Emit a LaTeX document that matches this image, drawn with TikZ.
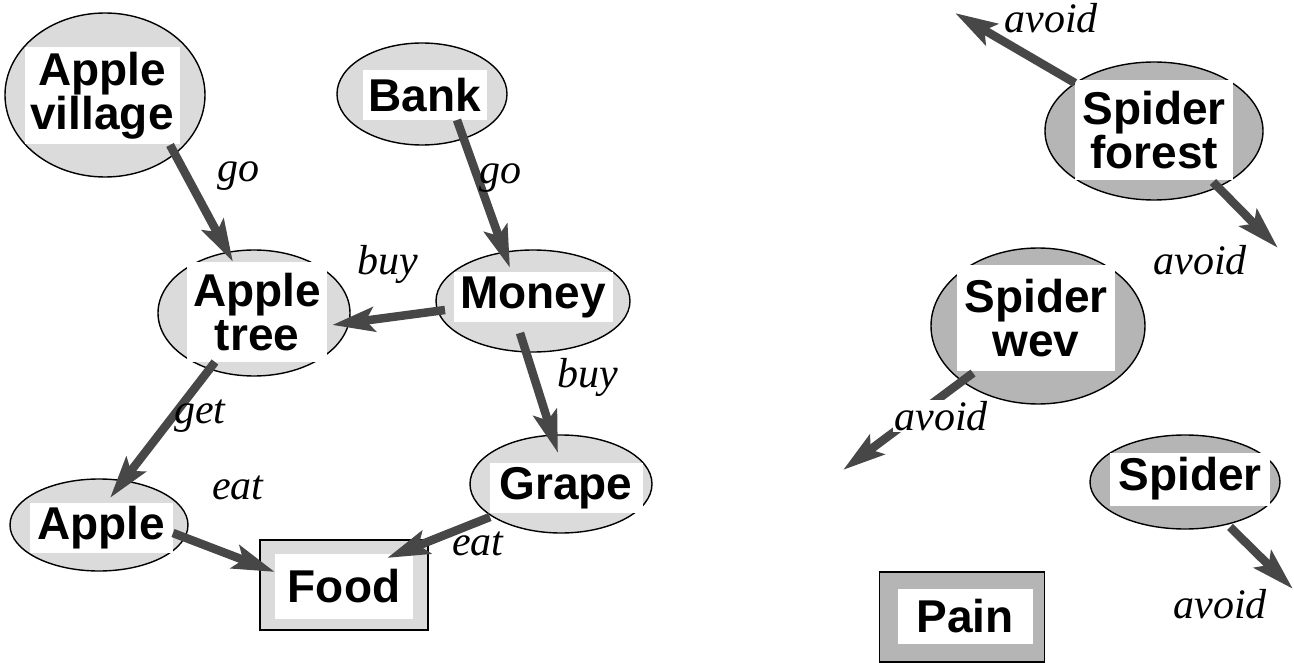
\documentclass[tikz,border=0pt]{standalone}
\usepackage{fontspec}
\setmainfont{Liberation Serif}
\newfontfamily\boxfont{Liberation Sans}
\usetikzlibrary{shapes.geometric,arrows.meta}
\begin{document}
\begin{tikzpicture}[x=1pt,y=-1pt,
  lightell/.style={ellipse,draw=black,line width=1.4pt,fill=gray!28,inner sep=0pt},
  darkell/.style={ellipse,draw=black,line width=1.4pt,fill=gray!58,inner sep=0pt},
  lightrect/.style={rectangle,draw=black,line width=1.2pt,fill=gray!28,inner sep=0pt},
  darkrect/.style={rectangle,draw=black,line width=1.2pt,fill=gray!58,inner sep=0pt},
  txtbox/.style={rectangle,fill=white,inner sep=0pt,align=center,
    font=\boxfont\bfseries\fontsize{46}{44}\selectfont},
  rel/.style={font=\itshape\fontsize{42}{42}\selectfont,inner sep=0pt},
  arr/.style={-{Stealth[length=42pt,width=24pt,inset=8pt]},line width=8.5pt,draw=black!72}
]
\useasboundingbox (0,0) rectangle (1294,663);

% --- shopping graph: shaded shapes ---
\node[lightell,minimum width=200,minimum height=164] (avE) at (105,95) {};
\node[lightell,minimum width=170,minimum height=102] (bankE) at (422,94) {};
\node[lightell,minimum width=192,minimum height=126] (atE) at (254,313) {};
\node[lightell,minimum width=194,minimum height=102] (moneyE) at (533,301) {};
\node[lightell,minimum width=182,minimum height=98]  (grapeE) at (561,484) {};
\node[lightell,minimum width=178,minimum height=92]  (appleE) at (99,525) {};
\node[lightrect,minimum width=168,minimum height=90] (foodR) at (344,585) {};

% --- spider graph: shaded shapes ---
\node[darkell,minimum width=218,minimum height=138] (sfE) at (1154,131) {};
\node[darkell,minimum width=214,minimum height=156] (swE) at (1038,326) {};
\node[darkell,minimum width=190,minimum height=94]  (spE) at (1185,482) {};
\node[darkrect,minimum width=165,minimum height=90] (painR) at (962,617) {};

% --- white label boxes ---
\node[txtbox,minimum width=155,minimum height=97] (av) at (102,96) {Apple\\village};
\node[txtbox,minimum width=124,minimum height=50] (bank) at (425,95) {Bank};
\node[txtbox,minimum width=140,minimum height=99] (at) at (257,312) {Apple\\tree};
\node[txtbox,minimum width=159,minimum height=49] (money) at (533,297) {Money};
\node[txtbox,minimum width=153,minimum height=50] (grape) at (566,488) {Grape};
\node[txtbox,minimum width=143,minimum height=50] (apple) at (101,528) {Apple};
\node[txtbox,minimum width=138,minimum height=65] (food) at (344,586) {Food};
\node[txtbox,minimum width=158,minimum height=100] (sf) at (1154,130) {Spider\\forest};
\node[txtbox,minimum width=158,minimum height=105] (sw) at (1036,318) {Spider\\wev};
\node[txtbox,minimum width=160,minimum height=53] (sp) at (1190,479) {Spider};
\node[txtbox,minimum width=135,minimum height=55] (pain) at (965,616) {Pain};

% --- free ends of the avoid arrows ---
\coordinate (sfUp) at (955,13);
\coordinate (sfDown) at (1278,248);
\coordinate (swDown) at (843,470);
\coordinate (spDown) at (1293,589);

% --- connectors ---
\draw[arr] ([shift={(68,49)}]av.center) -- ([shift={(-24,-50)}]at.center);
\draw[arr] ([shift={(32,25)}]bank.center) -- ([shift={(-23,-29)}]money.center);
\draw[arr] ([shift={(-88,13)}]money.center) -- ([shift={(75,13)}]at.center);
\draw[arr] ([shift={(-13,36)}]money.center) -- ([shift={(-8,-35)}]grape.center);
\draw[arr] ([shift={(-42,50)}]at.center) -- ([shift={(9,-30)}]apple.center);
\draw[arr] ([shift={(72,5)}]apple.center) -- ([shift={(-69,-14)}]food.center);
\draw[arr] ([shift={(-76,29)}]grape.center) -- ([shift={(43,-28)}]food.center);
\draw[arr] ([shift={(-79,-47)}]sf.center) -- (sfUp);
\draw[arr] ([shift={(59,52)}]sf.center) -- (sfDown);
\draw[arr] ([shift={(-63,55)}]sw.center) -- (swDown);
\draw[arr] ([shift={(40,48)}]sp.center) -- (spDown);

% --- relation labels ---
\node[rel] (l1) at (238,176) {go};
\node[rel] (l2) at (500,178) {go};
\node[rel] (l3) at (388,264) {buy};
\node[rel] (l4) at (588,377) {buy};
\node[rel] (l5) at (200,416) {get};
\node[rel] (l6) at (238,488) {eat};
\node[rel] (l7) at (478,544) {eat};
\node[rel] (l8) at (1051,18) {avoid};
\node[rel] (l9) at (1200,260) {avoid};
\node[rel,fill=white,inner sep=1pt] (l10) at (941,416) {avoid};
\node[rel] (l11) at (1220,604) {avoid};
\end{tikzpicture}
\end{document}
